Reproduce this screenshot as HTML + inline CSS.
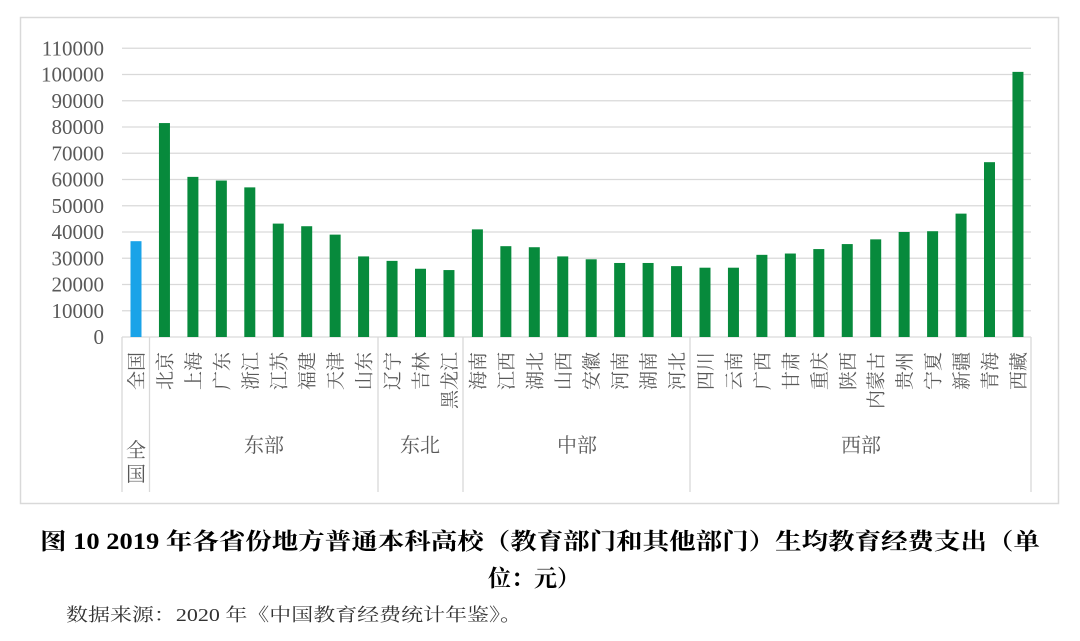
<!DOCTYPE html>
<html><head><meta charset="utf-8"><style>
html,body{margin:0;padding:0;background:#fff;}
svg{display:block;}
</style></head><body>
<svg width="1080" height="641" viewBox="0 0 1080 641" xmlns="http://www.w3.org/2000/svg">
<rect x="20.5" y="17.5" width="1038" height="486" fill="#fff" stroke="#d9d9d9" stroke-width="1.5"/>
<g id="grid" stroke="#d9d9d9" stroke-width="1.3"></g>
<g id="ylab" font-family="Liberation Serif, serif" font-size="21" fill="#595959" text-anchor="end"></g>
<g id="bars"></g>
<g id="sep" stroke="#d9d9d9" stroke-width="1.3"></g>
<g id="xlab" font-family="'Liberation Serif','Noto Serif CJK SC',serif" font-size="19" fill="#595959"></g>
<g font-family="'Liberation Serif','Noto Serif CJK SC',serif" font-size="20" fill="#595959" text-anchor="middle">
<text x="136" y="457">全</text><text x="136" y="481">国</text>
<text x="264" y="452">东部</text>
<text x="420" y="452">东北</text>
<text x="577" y="452">中部</text>
<text x="861" y="452">西部</text>
</g>
<text x="40" y="549" font-family="'Liberation Serif','Noto Serif CJK SC',serif" font-size="23" font-weight="bold" fill="#000" textLength="1000" lengthAdjust="spacingAndGlyphs">图 10  2019 年各省份地方普通本科高校（教育部门和其他部门）生均教育经费支出（单</text>
<text x="488" y="586" font-family="'Liberation Serif','Noto Serif CJK SC',serif" font-size="23" font-weight="bold" fill="#000">位：元）</text>
<text x="66" y="621" font-family="'Liberation Serif','Noto Serif CJK SC',serif" font-size="18" fill="#333" textLength="456" lengthAdjust="spacingAndGlyphs">数据来源：2020 年《中国教育经费统计年鉴》。</text>
</svg>
<script>
var ns="http://www.w3.org/2000/svg";
function el(t,a,p,txt){var e=document.createElementNS(ns,t);for(var k in a)e.setAttribute(k,a[k]);if(txt)e.textContent=txt;document.getElementById(p).appendChild(e);return e;}
var y0=337,step=26.25;
for(var i=0;i<=11;i++){var y=y0-i*step;
 if(i>0)el('line',{x1:122,x2:1031,y1:y,y2:y},'grid');
 el('text',{x:104,y:y+7},'ylab',String(i*10000));}
el('line',{x1:122,x2:1031,y1:y0,y2:y0},'grid');
var names=["全国","北京","上海","广东","浙江","江苏","福建","天津","山东","辽宁","吉林","黑龙江","海南","江西","湖北","山西","安徽","河南","湖南","河北","四川","云南","广西","甘肃","重庆","陕西","内蒙古","贵州","宁夏","新疆","青海","西藏"];
var vals=[36500,81500,61000,59600,57000,43200,42200,39000,30700,29000,26000,25500,41000,34600,34200,30700,29600,28200,28200,27000,26400,26400,31300,31800,33500,35400,37200,40000,40300,47000,66600,101000];
for(var i=0;i<32;i++){var cx=136+i*28.45,h=vals[i]/10000*step;
 el('rect',{x:cx-5.5,y:y0-h,width:11,height:h,fill:i==0?'#1aa3e8':'#078a3c'},'bars');
 el('text',{x:0,y:0,transform:'translate('+(cx+7)+',352) rotate(-90)','text-anchor':'end'},'xlab',names[i]);}
[122,149.5,378,463,690,1031].forEach(function(x){el('line',{x1:x,x2:x,y1:y0,y2:492},'sep');});
</script>
</body></html>
